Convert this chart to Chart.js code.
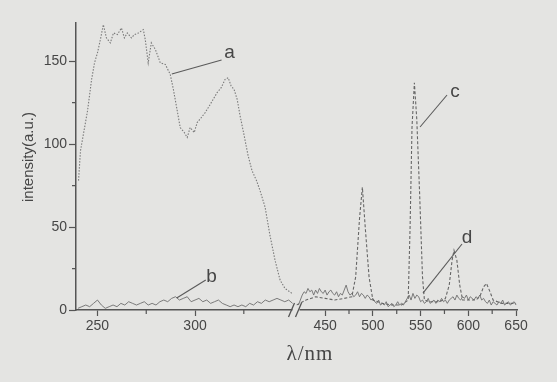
<!DOCTYPE html>
<html><head><meta charset="utf-8">
<script src="https://cdn.jsdelivr.net/npm/chart.js@4/dist/chart.umd.min.js"></script>
<style>html,body{margin:0;padding:0;background:#e4e4e2;}</style>
</head><body>
<canvas id="c" width="557" height="382"></canvas>
<script>
// ---- data ----
const aNm  = [240.3,241.3,243.4,244.9,247,248.5,250,251.5,253,254.6,256.6,258.2,260.2,262.3,263.8,265.3,267.4,268.9,271,273.5,274.5,276,277.6,279.7,282.2,284.8,287.3,288.9,290.9,292.4,294.5,296,297.5,299.6,301.1,303.2,305.2,307.3,309.3,311.3,313.4,315.4,317,318.5,320,321.6,323.1,325.2,327.2,329.2,331.5,333.3,335.9,338.4,341,343.6,346.1,349.7];
const aVal = [78,96,110,120,139,149,155,163,172,164,161,167,166,170,164,167,164,166,167,169,163,149,161,157,149,148,142,133,120,110,107,104,110,107,113,116,119,123,127,131,134,139,140,135,133,127,117,105,93,84,78,72,62,45,30,18,13,10];

const bNm  = [240,242,244,246,248,250,252,254,256,258,260,262,264,266,268,270,272,274,276,278,280,282,284,286,288,290,292,294,296,298,300,302,304,306,308,310,312,314,316,318,320,322,324,326,328,330,332,334,336,338,340,342,344,346,348,350];
const bVal = [1,2,3,2,4,6,3,1,2,3,2,4,3,5,4,3,4,5,3,4,3,5,6,5,7,8,6,7,8,5,6,7,5,6,4,5,6,4,3,2,3,2,3,2,4,3,5,4,6,5,6,7,6,5,6,4];

const cNm  = [420,430,440,450,460,470,478,482,486,489,492,496,500,510,520,530,537,539,541,543.5,546,549,552,554,560,570,576,580,583,585,588,591,594,600,608,612,616,619,622,626,635,650];
const cVal = [3,6,8,7,6,7,8,20,55,74,50,20,6,4,3,3,6,50,110,137,115,70,20,6,5,5,7,15,30,36,30,15,6,6,6,8,14,16,12,6,4,4];

const dNm  = [422,424,426,428,430,432,434,436,438,440,442,444,446,448,450,452,454,456,458,460,462,464,466,468,470,472,474,476,478,480,482,484,486,488,490,492,494,496,498,500,502,504,506,508,510,512,514,516,518,520,522,524,526,528,530,532,534,536,538,540,542,544,546,548,550,552,554,556,558,560,562,564,566,568,570,572,574,576,578,580,582,584,586,588,590,592,594,596,598,600,602,604,606,608,610,612,614,616,618,620,622,624,626,628,630,632,634,636,638,640,642,644,646,648,650];
const dVal = [3,6,9,11,
              10,13,11,12,9,12,10,13,11,10,12,9,11,12,10,
              9,11,8,10,9,12,15,11,9,10,8,9,11,8,10,9,7,9,8,6,7,
              5,4,6,3,4,3,5,2,3,4,2,3,5,3,4,3,5,
              7,9,6,10,7,9,8,
              5,6,4,5,7,4,5,6,4,6,5,7,5,6,4,6,
              7,8,6,9,7,6,8,7,9,6,8,7,6,8,7,9,6,7,
              5,4,6,3,5,4,3,5,4,6,3,4,5,3,4,5,3];

const yTicks   = [0,50,100,150];
const yMinor   = [25,75,125];
const x1Ticks  = [250,300];
const x1Minor  = [275,325];
const x2Ticks  = [450,500,550,600,650];
const x2Minor  = [475,525,575,625];

const yTitle = 'intensity(a.u.)';
const xTitle = 'λ/nm';

// curve labels: [text, axis, textX, textY, lineFromX, lineFromY, lineToX, lineToY]
const curveLabels = [
  ['a','x1',317.7,154.9,313.6,150.7,288.1,142.3],
  ['b','x1',308.5,19.9,305.5,18.1,290.6,7.2],
  ['c','x2',586,131.4,577.7,129.6,549.4,110.3],
  ['d','x2',598.6,43.4,593.4,39.8,552.5,10.2]
];

const zip = (xs, ys) => xs.map((x, i) => ({x, y: ys[i]}));

const BG = '#e4e4e2', AX = '#555', TXT = '#464646', LN = '#6e6e6e';
const tickFont = {family: '"Liberation Sans", Arial, sans-serif', size: 14};

const bgPlugin = {
  id: 'bg',
  beforeDraw(ch) {
    const c = ch.ctx; c.save(); c.fillStyle = BG; c.fillRect(0, 0, ch.width, ch.height); c.restore();
  }
};

const decoPlugin = {
  id: 'deco',
  afterDraw(ch) {
    const c = ch.ctx, y = ch.scales.y, x1 = ch.scales.x1, x2 = ch.scales.x2;
    const bottom = ch.chartArea.bottom, left = ch.chartArea.left;
    c.save();
    c.strokeStyle = AX; c.lineWidth = 1.2;
    // minor ticks
    c.beginPath();
    yMinor.forEach(v => { const p = y.getPixelForValue(v); c.moveTo(left - 4, p); c.lineTo(left, p); });
    x1Minor.forEach(v => { const p = x1.getPixelForValue(v); c.moveTo(p, bottom); c.lineTo(p, bottom + 4); });
    x2Minor.forEach(v => { const p = x2.getPixelForValue(v); c.moveTo(p, bottom); c.lineTo(p, bottom + 4); });
    c.stroke();
    // axis break
    const bx = x1.right;
    c.fillStyle = BG;
    c.fillRect(bx - 4, bottom - 2, 7, 4);
    c.beginPath();
    c.moveTo(bx - 8, bottom + 7); c.lineTo(bx - 2, bottom - 7);
    c.moveTo(bx - 1, bottom + 7); c.lineTo(bx + 5, bottom - 7);
    c.lineWidth = 1.3; c.stroke();
    // titles
    c.fillStyle = TXT;
    c.textAlign = 'center'; c.textBaseline = 'middle';
    c.font = '15px "Liberation Sans", Arial, sans-serif';
    c.save(); c.translate(29, 157); c.rotate(-Math.PI / 2); c.fillText(yTitle, 0, 0); c.restore();
    c.font = '21px "Liberation Serif", "DejaVu Serif", serif';
    try { c.letterSpacing = '1px'; } catch (e) {}
    c.fillText(xTitle, 310, 354);
    try { c.letterSpacing = '0px'; } catch (e) {}
    c.restore();
  },
  afterDatasetsDraw(ch) {
    const c = ch.ctx, y = ch.scales.y;
    c.save();
    c.strokeStyle = '#5a5a5a'; c.lineWidth = 1.1;
    c.fillStyle = TXT; c.textAlign = 'center'; c.textBaseline = 'middle';
    c.font = '19px "Liberation Sans", Arial, sans-serif';
    curveLabels.forEach(([t, ax, tx, ty, fx, fy, ex, ey]) => {
      const s = ch.scales[ax];
      c.beginPath();
      c.moveTo(s.getPixelForValue(fx), y.getPixelForValue(fy));
      c.lineTo(s.getPixelForValue(ex), y.getPixelForValue(ey));
      c.stroke();
      c.fillText(t, s.getPixelForValue(tx), y.getPixelForValue(ty));
    });
    c.restore();
  }
};

const xScale = (min, max, keep) => ({
  type: 'linear', position: 'bottom', stack: 'xs', stackWeight: 1,
  min, max,
  ticks: {stepSize: 50, color: TXT, font: tickFont, padding: 2, maxRotation: 0, autoSkip: false},
  grid: {display: true, drawOnChartArea: false, drawTicks: true, tickLength: 6, tickColor: AX, tickWidth: 1.2},
  border: {display: true, color: AX, width: 1.5},
  afterBuildTicks: s => { s.ticks = keep.map(v => ({value: v})); },
  afterFit: s => { s.height = 72; }
});

new Chart(document.getElementById('c'), {
  type: 'line',
  data: {
    datasets: [
      {label: 'a', xAxisID: 'x1', yAxisID: 'y', data: zip(aNm, aVal), borderColor: '#7a7a7a', borderWidth: 1.1, borderDash: [1.5, 1.5], pointRadius: 0, tension: 0},
      {label: 'b', xAxisID: 'x1', yAxisID: 'y', data: zip(bNm, bVal), borderColor: LN, borderWidth: 0.9, pointRadius: 0, tension: 0},
      {label: 'c', xAxisID: 'x2', yAxisID: 'y', data: zip(cNm, cVal), borderColor: '#666', borderWidth: 1.1, borderDash: [3, 2], pointRadius: 0, tension: 0},
      {label: 'd', xAxisID: 'x2', yAxisID: 'y', data: zip(dNm, dVal), borderColor: LN, borderWidth: 0.9, pointRadius: 0, tension: 0}
    ]
  },
  options: {
    responsive: false, animation: false, devicePixelRatio: 1,
    layout: {padding: {top: 23, right: 40, left: 0, bottom: 0}},
    plugins: {legend: {display: false}, tooltip: {enabled: false}, title: {display: false}},
    scales: {
      x1: xScale(239, 352, x1Ticks),
      x2: xScale(420, 651, x2Ticks),
      y: {
        min: 0, max: 173, position: 'left',
        ticks: {stepSize: 50, color: TXT, font: tickFont, padding: 2},
        grid: {display: true, drawOnChartArea: false, drawTicks: true, tickLength: 7, tickColor: AX, tickWidth: 1.2},
        border: {display: true, color: AX, width: 1.5},
        afterBuildTicks: s => { s.ticks = yTicks.map(v => ({value: v})); },
        afterFit: s => { s.width = 76; }
      }
    }
  },
  plugins: [bgPlugin, decoPlugin]
});
</script>
</body></html>
